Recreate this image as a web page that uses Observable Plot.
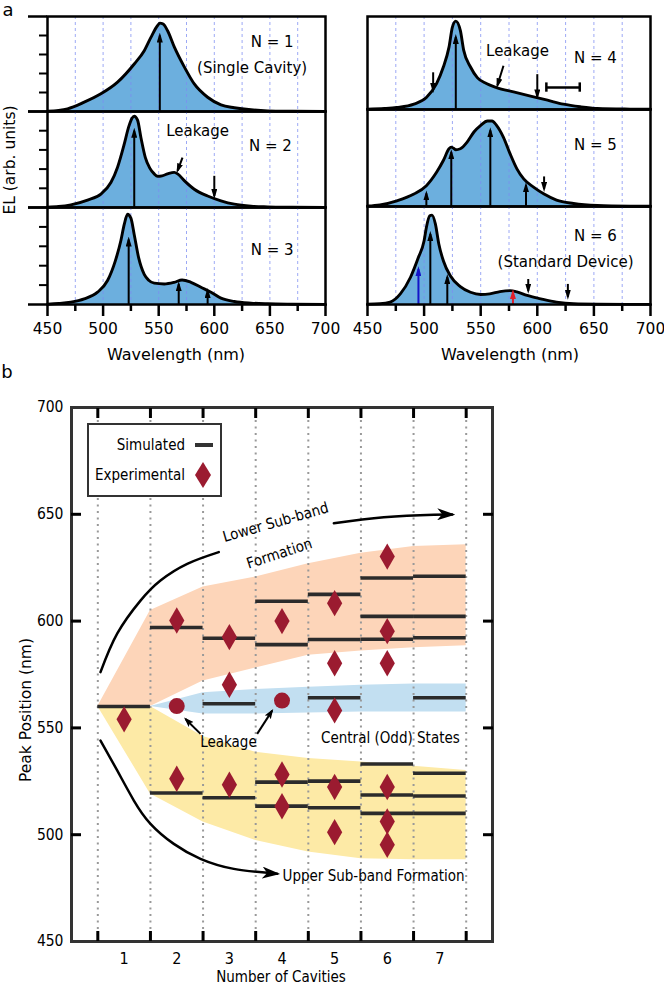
<!DOCTYPE html>
<html><head><meta charset="utf-8">
<script src="https://cdn.jsdelivr.net/npm/d3@7"></script>
<script src="https://cdn.jsdelivr.net/npm/@observablehq/plot@0.6"></script>
<style>
body{margin:0;background:#fff;}
#root{position:relative;width:664px;height:986px;overflow:hidden;font-family:"DejaVu Sans";color:#000;}
.abs{position:absolute;}
.lbl{position:absolute;white-space:nowrap;line-height:1;transform:translate(-50%,-50%);}
</style></head><body><div id="root"></div>
<script>
// ---------------- DATA : panel a ----------------
const wavelengthTicks = [450,500,550,600,650,700];
const minorWavelengthTicks = [475,525,575,625,675];
const guideWavelengths = [475,500,525,550,575,600,625,650,675];
const elTicks = [0.2,0.4,0.6,0.8];
const elEdgeTicks = [0,1];

const spectrumN1 = [[450,0.004],[460,0.012],[468,0.028],[483,0.098],[498,0.186],[513,0.309],[528,0.50],[537,0.64],[543,0.78],[549,0.905],[551,0.93],[554,0.92],[558,0.85],[564,0.68],[573,0.47],[582,0.29],[594,0.15],[606,0.07],[618,0.04],[633,0.018],[648,0.007],[670,0.003],[700,0.001]];
const spectrumN2 = [[450,0.004],[460,0.01],[471,0.028],[486,0.077],[498,0.14],[507,0.26],[513,0.42],[519,0.66],[523,0.84],[526,0.93],[528,0.95],[531,0.91],[534,0.73],[538,0.52],[542,0.41],[546,0.35],[549,0.325],[553,0.33],[558,0.35],[564,0.366],[567,0.35],[573,0.28],[582,0.19],[594,0.12],[606,0.07],[618,0.035],[633,0.014],[648,0.007],[670,0.003],[700,0.001]];
const spectrumN3 = [[450,0.003],[460,0.01],[471,0.024],[483,0.058],[495,0.127],[504,0.247],[511,0.45],[516,0.66],[519,0.825],[522,0.93],[525,0.89],[528,0.72],[532,0.48],[537,0.31],[541,0.25],[546,0.22],[555,0.212],[564,0.229],[571,0.253],[579,0.229],[588,0.178],[597,0.127],[606,0.065],[618,0.031],[633,0.014],[648,0.007],[670,0.003],[700,0.001]];
const spectrumN4 = [[450,0.003],[465,0.01],[476,0.021],[491,0.057],[502,0.129],[511,0.279],[517,0.457],[522,0.671],[525,0.886],[528,0.95],[532,0.85],[535,0.636],[541,0.457],[547,0.343],[555,0.279],[564,0.236],[579,0.189],[594,0.143],[609,0.1],[623,0.057],[638,0.029],[653,0.011],[682,0.004],[700,0.002]];
const spectrumN5 = [[450,0.005],[461,0.017],[476,0.059],[491,0.128],[502,0.215],[511,0.353],[517,0.474],[522,0.595],[524,0.612],[526,0.6],[528,0.585],[532,0.595],[538,0.664],[544,0.768],[550,0.837],[556,0.882],[560,0.882],[564,0.837],[570,0.716],[576,0.543],[582,0.388],[588,0.284],[597,0.197],[606,0.128],[617,0.066],[632,0.031],[653,0.01],[682,0.003],[700,0.002]];
const spectrumN6 = [[450,0.003],[461,0.007],[470,0.024],[479,0.108],[488,0.278],[495,0.481],[500,0.65],[502,0.786],[505,0.905],[507,0.912],[510,0.82],[513,0.617],[517,0.447],[523,0.295],[532,0.183],[541,0.125],[550,0.102],[558,0.108],[567,0.132],[576,0.142],[582,0.129],[591,0.092],[603,0.058],[617,0.024],[632,0.007],[653,0.003],[700,0.001]];

// up arrows: [wavelength, tip, color]
const upN1 = [[551,0.80,"k"]];
const upN2 = [[528,0.80,"k"]];
const upN3 = [[523,0.67,"k"],[568,0.21,"k"],[594,0.14,"k"]];
const upN4 = [[528,0.78,"k"]];
const upN5 = [[502,0.135,"k"],[524,0.56,"k"],[558.5,0.785,"k"],[590,0.22,"k"]];
const upN6 = [[495,0.36,"b"],[505.5,0.72,"k"],[520.5,0.28,"k"],[578.5,0.125,"r"]];
// down arrows: [wavelength, from, to]
const downN2 = [[600,0.33,0.12]];
const downN4 = [[508,0.40,0.21],[600,0.38,0.14]];
const downN5 = [[606,0.31,0.18]];
const downN6 = [[592,0.26,0.14],[627,0.21,0.08]];
// leakage pointers: [x1,y1,x2,y2]
const leakN2 = [[571.4,0.52,567,0.385]];
const leakN4 = [[570.1,0.47,564.8,0.26]];
const errorBarN4 = {from:608, to:637.5, level:0.236};
// labels: [wavelength, level, text]
const textN1 = [[652,0.73,"N = 1"],[634,0.46,"(Single Cavity)"]];
const textN2 = [[650.5,0.635,"N = 2"],[585,0.79,"Leakage"]];
const textN3 = [[652,0.56,"N = 3"]];
const textN4 = [[651.4,0.55,"N = 4"],[582.5,0.63,"Leakage"]];
const textN5 = [[651.4,0.63,"N = 5"]];
const textN6 = [[651.4,0.70,"N = 6"],[625,0.43,"(Standard Device)"]];

// ---------------- DATA : panel b ----------------
const cavities = [1,2,3,4,5,6,7];
const cavityBounds = [0.5,1.5,2.5,3.5,4.5,5.5,6.5,7.5];
const peakTickLabels = [450,500,550,600,650,700];
const peakInnerTicks = [500,550,600,650];

const simCavity = [1, 2,2, 3,3,3, 4,4,4,4, 5,5,5,5,5, 6,6,6,6,6,6, 7,7,7,7,7,7,7];
const simPeak   = [560, 597,519.5, 592,561.3,517.3, 609.3,589,524.6,513.4, 612.5,591.4,564.1,525.1,512.6, 620.2,602.2,591.5,533.1,518.6,510, 621,602.2,592.2,564.1,528.8,518.1,510];
const expCavity = [1, 2,2, 3,3,3, 4,4,4, 5,5,5,5,5, 6,6,6,6,6,6];
const expPeak   = [554, 600.3,526.2, 592.5,570.2,523.4, 600,528.2,513.3, 608.4,580.3,558.2,522.3,501.2, 630.2,595.3,580.3,522.3,506.2,495.3];
const leakCavity = [2,4];
const leakPeak   = [560.2,562.8];

const lowerBandX  = [0.5,1.5,2.5,3.5,4.5,5.5,6.5,7.5];
const lowerBandLo = [560,560,572,578,584,586,587.5,588.5];
const lowerBandHi = [560,605,616,620.6,626.8,631.8,634.9,635.7];
const centralBandX  = [1.5,2.5,3.5,4.5,5.5,6.5,7.5];
const centralBandLo = [560,556.5,556.5,557,557.5,557.5,557.5];
const centralBandHi = [560,566.5,568,569,570,570.5,570.5];
const upperBandX  = [0.5,1.5,2.5,3.5,4.5,5.5,6.5,7.5];
const upperBandLo = [560,519.1,505.9,497.3,491.9,488.7,488.3,488.3];
const upperBandHi = [560,560,546,538.6,535.7,534,532,530];

const lowerArrowA = [[0.551,576.1],[0.868,594.1],[1.311,609.6],[1.691,619.0],[2.199,626.8],[2.799,632.3]];
const lowerArrowB = [[4.985,645.8],[5.935,648.6],[6.885,649.8],[7.234,649.9]];
const upperArrow  = [[0.551,544.1],[0.868,530.1],[1.185,516.0],[1.501,505.1],[1.944,495.7],[2.451,488.7],[3.084,484.0],[3.908,481.7]];
const leakPointers = [[2.452,547.2,2.166,554.2],[3.528,547.2,3.813,558.1]];
const bTexts = [
  [3.88,646.2,"Lower Sub-band",-16],
  [3.95,631.6,"Formation",-18],
  [2.983,543.2,"Leakage",0],
  [6.06,545.0,"Central (Odd) States",0]
];
const bTextsLeft = [[4.01,480.5,"Upper Sub-band Formation"]];

// ---------------- RENDER ----------------
const root = document.getElementById("root");
root.insertAdjacentHTML("beforeend", `<svg width="1" height="1" style="position:absolute;left:0;top:0"><defs>
<marker id="hk" viewBox="0 0 10 6" refX="7" refY="3" markerWidth="10" markerHeight="6" orient="auto" markerUnits="userSpaceOnUse"><path d="M0,0L10,3L0,6Z" fill="#000"/></marker>
<marker id="hb" viewBox="0 0 10 6" refX="7" refY="3" markerWidth="10" markerHeight="6" orient="auto" markerUnits="userSpaceOnUse"><path d="M0,0L10,3L0,6Z" fill="#1414c8"/></marker>
<marker id="hr" viewBox="0 0 10 6" refX="7" refY="3" markerWidth="10" markerHeight="6" orient="auto" markerUnits="userSpaceOnUse"><path d="M0,0L10,3L0,6Z" fill="#e01e2a"/></marker>
<marker id="hbig" viewBox="0 0 18 12" refX="15" refY="6" markerWidth="18" markerHeight="12" orient="auto" markerUnits="userSpaceOnUse"><path d="M0,0L18,6L0,12L5,6Z" fill="#000"/></marker>
<marker id="hsm" viewBox="0 0 10 7" refX="8" refY="3.5" markerWidth="10" markerHeight="7" orient="auto" markerUnits="userSpaceOnUse"><path d="M0,0L10,3.5L0,7L2,3.5Z" fill="#000"/></marker>
</defs></svg>`);

function place(node, left, top, width) {
  const w = document.createElement("div");
  w.className = "abs";
  w.style.left = left + "px"; w.style.top = top + "px";
  if (width) w.style.width = width + "px";
  w.appendChild(node); root.appendChild(w); return node;
}
function label(text, x, y, {size=16, family="DejaVu Sans", rotate=0, anchor="middle"} = {}) {
  const d = document.createElement("div");
  d.className = "lbl";
  d.textContent = text;
  d.style.left = x + "px"; d.style.top = y + "px";
  d.style.fontSize = size + "px"; d.style.fontFamily = family;
  let tx = anchor === "middle" ? "-50%" : anchor === "end" ? "-100%" : "0";
  d.style.transform = `translate(${tx},-50%) rotate(${rotate}deg)`;
  root.appendChild(d); return d;
}
// tag colours identify the arrow marks; they are swapped for the real colour + marker
const TAG = {k: "#010101", b: "#1414c8", r: "#e01e2a", big: "#020202", small: "#030303"};
const TAGMARK = [["#010101","hk","#000"],["#1414c8","hb","#1414c8"],["#e01e2a","hr","#e01e2a"],["#020202","hbig","#000"],["#030303","hsm","#000"]];
function addMarkers(svg) {
  for (const [tag, id, real] of TAGMARK) {
    d3.select(svg).selectAll("g").filter(function() {
      const s = this.getAttribute("stroke"); return s && s.toLowerCase() === tag;
    }).attr("stroke", real).selectAll("path").attr("marker-end", `url(#${id})`);
  }
}

const FILL = "#6cafde";
const cols = [
  {left:0, width:340, ml:47, mr:15, bounds:[16,111,207,304], yTicks:true},
  {left:330, width:334, ml:37, mr:14, bounds:[16,109,206,304], yTicks:false}
];
const panels = [
  {col:0,row:0,data:spectrumN1,up:upN1,down:[],leak:[],text:textN1},
  {col:0,row:1,data:spectrumN2,up:upN2,down:downN2,leak:leakN2,text:textN2},
  {col:0,row:2,data:spectrumN3,up:upN3,down:[],leak:[],text:textN3},
  {col:1,row:0,data:spectrumN4,up:upN4,down:downN4,leak:leakN4,text:textN4,err:errorBarN4},
  {col:1,row:1,data:spectrumN5,up:upN5,down:downN5,leak:[],text:textN5},
  {col:1,row:2,data:spectrumN6,up:upN6,down:downN6,leak:[],text:textN6}
];

for (const p of panels) {
  const c = cols[p.col];
  const top = c.bounds[p.row];
  const innerH = c.bounds[p.row+1] - top;
  const last = p.row === 2;
  const mb = last ? 40 : 0;
  const marks = [
    Plot.areaY(p.data, {x: d=>d[0], y: d=>d[1], fill: FILL, curve: "monotone-x"}),
    Plot.ruleX(guideWavelengths, {stroke: "#7c8cf2", strokeOpacity: 0.75, strokeDasharray: "3,3", strokeWidth: 1}),
    Plot.line(p.data, {x: d=>d[0], y: d=>d[1], stroke: "#000", strokeWidth: 2.9, curve: "monotone-x"}),
  ];
  for (const col of ["k","b","r"]) {
    const sub = p.up.filter(d => d[2] === col);
    if (sub.length) marks.push(Plot.link(sub, {x1: d=>d[0], x2: d=>d[0], y1: 0, y2: d=>d[1], stroke: TAG[col], strokeWidth: 2}));
  }
  if (p.down.length) marks.push(Plot.link(p.down, {x1: d=>d[0], x2: d=>d[0], y1: d=>d[1], y2: d=>d[2], stroke: TAG.k, strokeWidth: 2}));
  if (p.leak.length) marks.push(Plot.link(p.leak, {x1: d=>d[0], y1: d=>d[1], x2: d=>d[2], y2: d=>d[3], stroke: TAG.k, strokeWidth: 2}));
  if (p.err) {
    marks.push(Plot.ruleY([p.err], {x1: "from", x2: "to", y: "level", stroke: "#000", strokeWidth: 2.5}));
    marks.push(Plot.ruleX([p.err.from, p.err.to], {x: d=>d, y1: p.err.level - 0.05, y2: p.err.level + 0.05, stroke: "#000", strokeWidth: 2.5}));
  }
  marks.push(Plot.text(p.text, {x: d=>d[0], y: d=>d[1], text: d=>d[2], fontSize: 15, fill: "#000"}));
  marks.push(Plot.frame({stroke: "#000", strokeWidth: 2.5}));
  if (c.yTicks) {
    marks.push(Plot.axisY(elTicks, {anchor: "left", tickSize: 8, tickFormat: () => "", strokeWidth: 2}));
    marks.push(Plot.axisY(elEdgeTicks, {anchor: "left", tickSize: 19, tickFormat: () => "", strokeWidth: 2.5}));
  }
  if (last) {
    marks.push(Plot.axisX(wavelengthTicks, {anchor: "bottom", tickSize: 12, tickPadding: 6, strokeWidth: 2.5, fontSize: 15.5}));
    marks.push(Plot.axisX(minorWavelengthTicks, {anchor: "bottom", tickSize: 7, tickFormat: () => "", strokeWidth: 2.5}));
  }
  const svg = Plot.plot({
    width: c.width, height: innerH + mb,
    marginLeft: c.ml, marginRight: c.mr, marginTop: 0, marginBottom: mb,
    x: {domain: [450, 700], axis: null},
    y: {domain: [0, 1], axis: null},
    style: {fontFamily: "DejaVu Sans", fontSize: "15px", overflow: "visible", background: "transparent", color: "#000"},
    marks
  });
  addMarkers(svg);
  place(svg, c.left, top, c.width);
}

label("a", 8, 10, {size: 18});
label("EL (arb. units)", 11, 160, {size: 15.5, rotate: -90});
label("Wavelength (nm)", 176, 355, {size: 16});
label("Wavelength (nm)", 510, 355, {size: 16});

// ---------- panel b ----------
const COND = "DejaVu Sans Condensed";
const RED = "#9b1b30";
const simulated = simCavity.map((n, i) => ({n, nm: simPeak[i]}));
const experimental = expCavity.map((n, i) => ({n, nm: expPeak[i]}));
const leakage = leakCavity.map((n, i) => ({n, nm: leakPeak[i]}));
const band = (xs, lo, hi) => xs.map((x, i) => ({x, lo: lo[i], hi: hi[i]}));

const svgB = Plot.plot({
  width: 664, height: 626,
  marginTop: 47, marginBottom: 45, marginLeft: 71, marginRight: 172,
  x: {domain: [0, 8], axis: null},
  y: {domain: [450, 700], axis: null},
  style: {fontFamily: COND, fontSize: "15px", overflow: "visible", background: "transparent", color: "#000"},
  marks: [
    Plot.areaY(band(lowerBandX, lowerBandLo, lowerBandHi), {x: "x", y1: "lo", y2: "hi", fill: "#fdd5b9"}),
    Plot.areaY(band(centralBandX, centralBandLo, centralBandHi), {x: "x", y1: "lo", y2: "hi", fill: "#c2dff1"}),
    Plot.areaY(band(upperBandX, upperBandLo, upperBandHi), {x: "x", y1: "lo", y2: "hi", fill: "#fdeaa6"}),
    Plot.ruleX(cavityBounds, {stroke: "#999", strokeWidth: 2, strokeDasharray: "2,4.5"}),
    Plot.ruleY(simulated, {x1: d => d.n - 0.5, x2: d => d.n + 0.5, y: "nm", stroke: "#2b2b2b", strokeWidth: 3.6}),
    Plot.dot(experimental, {x: "n", y: "nm", symbol: d3.symbolDiamond, r: 8, fill: RED, stroke: "none"}),
    Plot.dot(leakage, {x: "n", y: "nm", r: 8, fill: RED, stroke: "none"}),
    Plot.line(lowerArrowA, {x: d=>d[0], y: d=>d[1], curve: "natural", stroke: "#000", strokeWidth: 2.5}),
    Plot.line(lowerArrowB, {x: d=>d[0], y: d=>d[1], curve: "natural", stroke: TAG.big, strokeWidth: 2.5}),
    Plot.line(upperArrow, {x: d=>d[0], y: d=>d[1], curve: "natural", stroke: TAG.big, strokeWidth: 2.5}),
    Plot.link(leakPointers, {x1: d=>d[0], y1: d=>d[1], x2: d=>d[2], y2: d=>d[3], stroke: TAG.small, strokeWidth: 2}),
    Plot.text(bTexts, {x: d=>d[0], y: d=>d[1], text: d=>d[2], rotate: d=>d[3], fontSize: 15, fill: "#000"}),
    Plot.text(bTextsLeft, {x: d=>d[0], y: d=>d[1], text: d=>d[2], textAnchor: "start", fontSize: 15, fill: "#000"}),
    Plot.frame({stroke: "#333", strokeWidth: 3}),
    Plot.axisY(peakTickLabels, {anchor: "left", tickSize: 0, tickPadding: 8, fontSize: 15.5}),
    Plot.axisY(peakInnerTicks, {anchor: "left", tickSize: -10, tickFormat: () => "", strokeWidth: 3}),
    Plot.axisY(peakInnerTicks, {anchor: "right", tickSize: -10, tickFormat: () => "", strokeWidth: 3}),
    Plot.axisX(cavities, {anchor: "bottom", tickSize: 0, tickPadding: 11, fontSize: 16}),
    Plot.axisX(cavityBounds, {anchor: "bottom", tickSize: -10, tickFormat: () => "", strokeWidth: 3}),
    Plot.axisX(cavityBounds, {anchor: "top", tickSize: -10, tickFormat: () => "", strokeWidth: 3})
  ]
});
addMarkers(svgB);
place(svgB, 0, 360, 664);

label("b", 7, 372, {size: 18});
label("Peak Position (nm)", 27, 710, {size: 15.5, rotate: -90});
label("Number of Cavities", 281, 977, {size: 15, family: COND});

// legend (HTML box)
const box = document.createElement("div");
box.className = "abs";
Object.assign(box.style, {left: "87px", top: "423px", width: "135px", height: "74px", border: "2.5px solid #333", boxSizing: "border-box", background: "#fff"});
root.appendChild(box);
label("Simulated", 185, 445, {size: 15, family: COND, anchor: "end"});
label("Experimental", 185, 475, {size: 15, family: COND, anchor: "end"});
const seg = document.createElement("div");
seg.className = "abs";
Object.assign(seg.style, {left: "195px", top: "443px", width: "18px", height: "4px", background: "#333"});
root.appendChild(seg);
root.insertAdjacentHTML("beforeend", `<svg class="abs" style="left:195px;top:462px" width="16" height="26"><polygon points="8,0 16,13 8,26 0,13" fill="${RED}"/></svg>`);
</script></body></html>
